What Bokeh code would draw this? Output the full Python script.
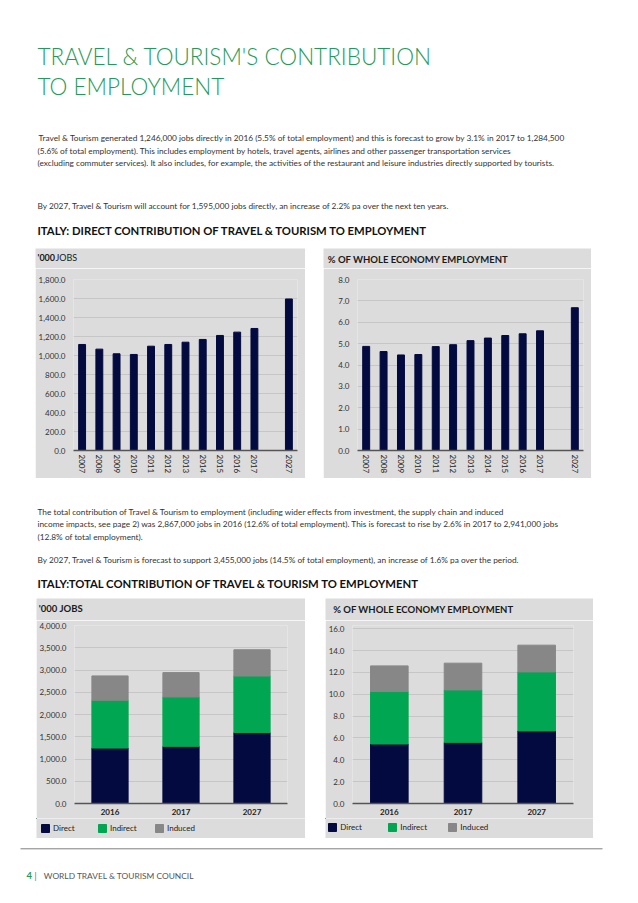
from bokeh.plotting import figure
from bokeh.models import (ColumnDataSource, FactorRange, Range1d, NumeralTickFormatter,
                          FixedTicker, Spacer)
from bokeh.layouts import column, row
from bokeh.core.properties import value
from bokeh.embed import file_html
from bokeh.resources import INLINE

# ---------------- data ----------------
axis_years = ["2007", "2008", "2009", "2010", "2011", "2012", "2013", "2014",
              "2015", "2016", "2017", " ", "2027"]
bar_years = ["2007", "2008", "2009", "2010", "2011", "2012", "2013", "2014",
             "2015", "2016", "2017", "2027"]
direct_jobs = [1116, 1067, 1018, 1011, 1098, 1116, 1140, 1169, 1211, 1246, 1284.5, 1595]
direct_share = [4.87, 4.63, 4.47, 4.49, 4.86, 4.95, 5.14, 5.26, 5.38, 5.46, 5.60, 6.68]

total_years = ["2016", "2017", "2027"]
jobs_direct = [1246, 1284.5, 1595]
jobs_indirect = [1074, 1110, 1270]
jobs_induced = [547, 547, 590]
share_direct = [5.45, 5.60, 6.65]
share_indirect = [4.80, 4.80, 5.40]
share_induced = [2.35, 2.45, 2.45]

jobs_ticks_direct = [0, 200, 400, 600, 800, 1000, 1200, 1400, 1600, 1800]
share_ticks_direct = [0, 1, 2, 3, 4, 5, 6, 7, 8]
jobs_ticks_total = [0, 500, 1000, 1500, 2000, 2500, 3000, 3500, 4000]
share_ticks_total = [0, 2, 4, 6, 8, 10, 12, 14, 16]

series_names = ["Direct", "Indirect", "Induced"]

# ---------------- style ----------------
FONT = "Lato"
PANEL = "#dcdcdc"
GRID = "#c6c6c6"
NAVY = "#020a3f"
GREEN = "#00a651"
GREY = "#878787"
SERIES_COLORS = [NAVY, GREEN, GREY]
TITLE_GREEN = "#1f9c5a"
TEXT = "#333333"
BODY = "8.3px"
HEAD = "11.3px"


def blank_fig(width, height, x0, y_top, fill):
    p = figure(width=width, height=height, x_range=Range1d(x0, x0 + width),
               y_range=Range1d(y_top + height, y_top), output_backend="svg",
               toolbar_location=None, x_axis_location=None, y_axis_location=None,
               min_border=0)
    p.grid.visible = False
    p.outline_line_color = None
    p.background_fill_color = fill
    p.border_fill_color = fill
    return p


def put_text(p, xs, ys, texts, size, color=TEXT, style="normal", font=FONT,
             baseline="middle"):
    p.text(x=xs, y=ys, text=texts, text_font=value(font), text_font_size=size,
           text_font_style=style, text_color=color, text_baseline=baseline,
           text_align="left")


def chart_fig(width, height, x_range, y_max, ticks, fmt, bl, br, bt, bb):
    p = figure(width=width, height=height, x_range=x_range, y_range=Range1d(0, y_max),
               output_backend="svg", toolbar_location=None,
               min_border_left=bl, min_border_right=br, min_border_top=bt,
               min_border_bottom=bb)
    p.border_fill_color = PANEL
    p.background_fill_color = PANEL
    p.outline_line_color = None
    p.xgrid.grid_line_color = None
    p.ygrid.grid_line_color = GRID
    p.ygrid.grid_line_width = 1
    p.ygrid.ticker = FixedTicker(ticks=ticks)
    p.yaxis.ticker = FixedTicker(ticks=ticks)
    p.yaxis.formatter = NumeralTickFormatter(format=fmt)
    p.yaxis.axis_line_color = None
    p.yaxis.major_tick_line_color = None
    p.yaxis.minor_tick_line_color = None
    p.yaxis.major_tick_out = 0
    p.yaxis.major_tick_in = 0
    p.yaxis.major_label_standoff = 8
    p.yaxis.major_label_text_font = FONT
    p.yaxis.major_label_text_font_size = "8px"
    p.yaxis.major_label_text_color = TEXT
    p.xaxis.axis_line_color = "#555555"
    p.xaxis.axis_line_width = 1.3
    p.xaxis.major_tick_line_color = None
    p.xaxis.minor_tick_line_color = None
    p.xaxis.major_label_text_font = FONT
    p.xaxis.major_label_text_color = "#222222"
    p.x_range.range_padding = 0
    return p


def legend_strip(width, height, x0, y_top, loc, label_w):
    p = blank_fig(width, height, x0, y_top, PANEL)
    for nm, col in zip(series_names, SERIES_COLORS):
        # zero-size swatch renderer placed off-canvas: only feeds the legend
        p.vbar(x=[x0 - 100], top=[0], bottom=[0], width=0, color=col, legend_label=nm)
    lg = p.legend[0]
    lg.location = loc
    lg.orientation = "horizontal"
    lg.padding = 0
    lg.margin = 0
    lg.spacing = 6
    lg.glyph_width = 10
    lg.glyph_height = 10
    lg.label_height = 10
    lg.label_width = label_w
    lg.label_standoff = 3
    lg.label_text_font = FONT
    lg.label_text_font_size = "8px"
    lg.label_text_color = "#222222"
    lg.border_line_color = None
    lg.background_fill_alpha = 0
    return p


def row_of(h, a, b, left, gap, right):
    return row(Spacer(width=left, height=h), a, Spacer(width=gap, height=h), b,
               Spacer(width=right, height=h))


# ---------------- header text ----------------
head = blank_fig(638, 248, 0, 0, "white")
put_text(head, [37, 37], [55.7, 85.5],
         ["TRAVEL & TOURISM'S CONTRIBUTION", "TO EMPLOYMENT"],
         "22.5px", color=TITLE_GREEN, font="Lato Light", baseline="alphabetic")
put_text(head, [38, 37, 37], [137.3, 150, 162.5],
         [" Travel & Tourism generated 1,246,000 jobs directly in 2016 (5.5% of total employment) and this is forecast to grow by 3.1% in 2017 to 1,284,500",
          "(5.6% of total employment). This includes employment by hotels, travel agents, airlines and other passenger transportation services",
          "(excluding commuter services). It also includes, for example, the activities of the restaurant and leisure industries directly supported by tourists."],
         BODY)
put_text(head, [37], [205],
         ["By 2027, Travel & Tourism will account for 1,595,000 jobs directly, an increase of 2.2% pa over the next ten years."],
         BODY)
put_text(head, [37], [230],
         ["ITALY: DIRECT CONTRIBUTION OF  TRAVEL & TOURISM TO EMPLOYMENT"],
         HEAD, color="#111111", style="bold")

# ---------------- chart titles (row 1) ----------------
t1 = blank_fig(270, 20, 35, 248, PANEL)
put_text(t1, [37], [256.5], ["'000"], "9px", color="#1a1a1a", style="bold")
put_text(t1, [55], [256.5], ["JOBS"], "9px", color="#1a1a1a")
t2 = blank_fig(268, 20, 323, 248, PANEL)
put_text(t2, [327.3], [259.3], ["% OF WHOLE ECONOMY EMPLOYMENT"], "9.5px",
         color="#1a1a1a", style="bold")

# ---------------- chart 1: direct jobs ----------------
c1 = chart_fig(270, 210, FactorRange(factors=axis_years), 1800, jobs_ticks_direct,
               "0,0.0", 35, 8, 11, 28)
c1.vbar(x=bar_years, top=direct_jobs, width=0.4, color=NAVY)

# ---------------- chart 2: direct share ----------------
c2 = chart_fig(268, 210, FactorRange(factors=axis_years), 8, share_ticks_direct,
               "0.0", 34, 8, 11, 28)
c2.vbar(x=bar_years, top=direct_share, width=0.4, color=NAVY)

for c in (c1, c2):
    c.xaxis.major_label_orientation = "vertical"
    c.xaxis.major_label_text_font_size = "8px"
    c.xaxis.major_tick_out = 0
    c.xaxis.major_label_standoff = 4

# ---------------- middle text ----------------
mid = blank_fig(638, 120, 0, 478, "white")
put_text(mid, [37, 37, 37], [511, 523.5, 536],
         ["The total contribution of Travel & Tourism to employment (including wider effects from investment, the supply chain and induced",
          "income impacts, see page 2) was 2,867,000 jobs in 2016 (12.6% of total employment).  This is forecast to rise by 2.6% in 2017 to 2,941,000 jobs",
          "(12.8% of total employment)."],
         BODY)
put_text(mid, [37], [559],
         [" By 2027, Travel & Tourism is forecast to support 3,455,000 jobs (14.5% of total employment), an increase of 1.6% pa over the period."],
         BODY)
put_text(mid, [37], [583],
         ["ITALY:TOTAL CONTRIBUTION OF TRAVEL & TOURISM TO EMPLOYMENT"],
         HEAD, color="#111111", style="bold")


# ---------------- stacked charts ----------------
def stacked(width, height, bl, br, bt, bb, y_max, ticks, fmt, d, i, n):
    p = chart_fig(width, height, FactorRange(factors=total_years), y_max, ticks, fmt,
                  bl, br, bt, bb)
    src = ColumnDataSource(dict(year=total_years, Direct=d, Indirect=i, Induced=n))
    p.vbar_stack(series_names, x="year", width=0.51, color=SERIES_COLORS, source=src)
    p.xaxis.major_label_text_font_size = "8px"
    p.xaxis.major_label_text_font_style = "bold"
    p.xaxis.major_tick_out = 3
    p.xaxis.major_label_standoff = 2
    return p


t3 = blank_fig(269, 22, 36, 598, PANEL)
put_text(t3, [38.3], [607.5], ["'000 JOBS"], "9.5px", color="#1a1a1a", style="bold")
t4 = blank_fig(268, 22, 325, 598, PANEL)
put_text(t4, [332.7], [609], ["% OF WHOLE ECONOMY EMPLOYMENT"], "9.5px",
         color="#1a1a1a", style="bold")

c3 = stacked(269, 198, 36, 18, 5, 15, 4000, jobs_ticks_total, "0,0.0",
             jobs_direct, jobs_indirect, jobs_induced)
c4 = stacked(268, 198, 27, 20, 5, 15, 16.3, share_ticks_total, "0.0",
             share_direct, share_indirect, share_induced)

l3 = legend_strip(269, 20, 36, 818, (4, 5.3), 38)
l4 = legend_strip(268, 20, 325, 818, (2.3, 5.7), 41)

# ---------------- footer ----------------
foot = blank_fig(638, 65, 0, 838, "white")
foot.segment(x0=[20], y0=[848.3], x1=[602], y1=[848.3], line_color="#7f7f7f", line_width=1)
put_text(foot, [26], [875], ["4"], "9.5px", color=TITLE_GREEN, style="bold")
put_text(foot, [34], [875], ["|"], "8.5px", color="#666666")
put_text(foot, [43.3], [875], ["WORLD TRAVEL & TOURISM COUNCIL"], "8.4px", color="#555555")

layout = column(
    head,
    row_of(20, t1, t2, 35, 18, 47),
    row_of(210, c1, c2, 35, 18, 47),
    mid,
    row_of(22, t3, t4, 36, 20, 45),
    row_of(198, c3, c4, 36, 20, 45),
    row_of(20, l3, l4, 36, 20, 45),
    foot,
)

open("out.html", "w").write(file_html(layout, INLINE))
